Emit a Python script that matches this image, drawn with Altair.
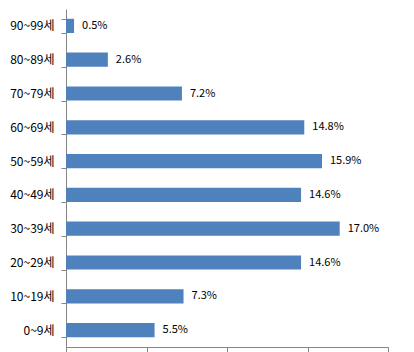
import altair as alt
import pandas as pd

categories = ["90~99세", "80~89세", "70~79세", "60~69세", "50~59세",
              "40~49세", "30~39세", "20~29세", "10~19세", "0~9세"]
values = [0.5, 2.6, 7.2, 14.8, 15.9, 14.6, 17.0, 14.6, 7.3, 5.5]

df = pd.DataFrame({"cat": categories, "val": values,
                   "label": [f"{v:.1f}%" for v in values]})

FONT = "Noto Sans CJK KR"
GRAY = "#868686"

yscale = alt.Scale(domain=categories, paddingInner=0.58, paddingOuter=0.29)
xscale = alt.Scale(domain=[0, 20], nice=False)

base = alt.Chart(df)

bars = base.mark_bar(color="#4F81BD").encode(
    x=alt.X("val:Q", scale=xscale,
            axis=alt.Axis(title=None, labels=False, grid=False, values=[0, 5, 10, 15, 20],
                          tickSize=5, tickColor=GRAY, domainColor=GRAY)),
    y=alt.Y("cat:N", scale=yscale, sort=categories,
            axis=alt.Axis(title=None, ticks=True, tickBand="extent", tickSize=5,
                          tickColor=GRAY, domainColor=GRAY, labelPadding=7,
                          labelFont=FONT, labelFontSize=12, labelColor="#000000")),
)

text = base.mark_text(align="left", baseline="middle", dx=8, font=FONT,
                      fontSize=11, color="#000000").encode(
    x=alt.X("val:Q", scale=xscale),
    y=alt.Y("cat:N", scale=yscale, sort=categories),
    text="label:N",
)

chart = (bars + text).properties(
    width=322, height=338,
    background="white",
    autosize=alt.AutoSizeParams(type="none"),
    padding={"left": 66, "top": 9, "right": 26, "bottom": 5},
).configure_view(stroke=None)

chart.save("out.html", embed_options={"renderer": "svg", "actions": False})
